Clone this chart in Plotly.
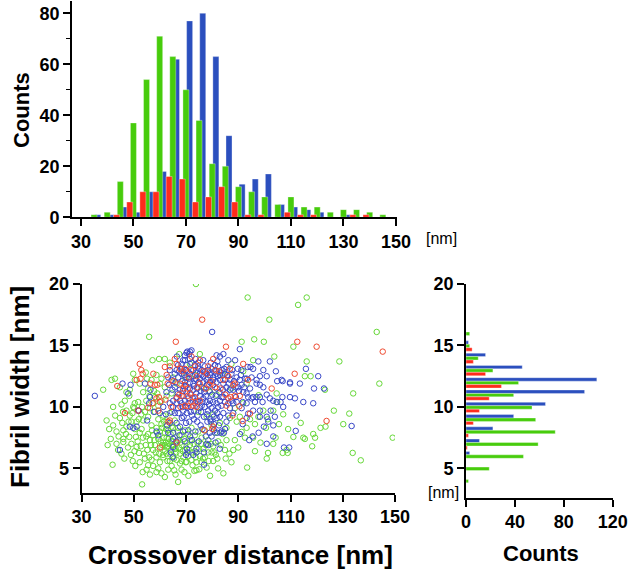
import plotly.graph_objects as go

# ---------------- data ----------------
# Crossover-distance histogram (bin centres, nm) and counts per series
cross_bins = [35, 40, 45, 50, 55, 60, 65, 70, 75, 80, 85, 90, 95, 100, 105, 110, 115, 120, 125, 130, 135, 140, 145]
cross_green = [1, 2, 14, 37, 54, 71, 63, 50, 38, 21, 20, 12, 10, 8, 5, 8, 4, 4, 2, 3, 3, 2, 1]
cross_red = [0, 0, 1, 6, 10, 10, 16, 15, 6, 8, 12, 6, 1, 1, 0, 2, 1, 1, 0, 0, 1, 1, 0]
cross_blue = [1, 1, 4, 2, 10, 18, 62, 77, 80, 63, 32, 13, 15, 17, 5, 4, 3, 2, 0, 1, 0, 0, 0]

# Fibril-width histogram (bin centres, nm) and counts per series
width_bins = [4, 5, 6, 7, 8, 9, 10, 11, 12, 13, 14, 15, 16]
width_green = [2, 19, 47, 59, 73, 57, 54, 39, 43, 22, 10, 3, 3]
width_red = [0, 0, 0, 1, 2, 6, 11, 19, 29, 16, 6, 5, 0]
width_blue = [0, 0, 3, 11, 22, 39, 65, 97, 107, 46, 16, 2, 0]

# Scatter points (crossover distance nm, fibril width nm)
green_pts = [
    (73.8, 20.0), (93.6, 18.9), (116.2, 18.9), (112.9, 18.3), (101.9, 17.1), (143.0, 16.1), (55.9, 15.7),
    (91.3, 15.3), (96.1, 15.5), (99.8, 15.3), (111.1, 14.9), (128.7, 13.7), (116.2, 13.7), (103.8, 14.1),
    (95.7, 13.8), (144.0, 11.9), (134.0, 11.1), (132.5, 9.46), (126.6, 9.7), (123.4, 8.4), (121.5, 8.3),
    (119.4, 7.5), (118.3, 6.8), (133.8, 6.26), (136.9, 5.66), (149.1, 7.5), (123.2, 11.4), (117.7, 12.5),
    (115.5, 12.5), (113.9, 8.7), (114.9, 7.5), (111.1, 7.56), (107.0, 6.26), (108.9, 6.26), (101.4, 6.26),
    (103.4, 7.0), (95.7, 7.5), (92.6, 7.5), (93.4, 5.07), (103.4, 9.7), (104.9, 10.4), (104.7, 11.1),
    (97.8, 10.95), (99.6, 9.7), (93.2, 8.3), (91.3, 7.97), (89.4, 8.8), (88.7, 7.3), (88.1, 6.5), (85.5, 7.3),
    (84.9, 6.5), (85.2, 5.8), (81.4, 6.1), (79.8, 6.3), (77.9, 5.07), (75.1, 4.93), (74.0, 4.85), (72.5, 5.26),
    (70.2, 5.53), (67.7, 5.4), (65.5, 4.85), (61.9, 4.3), (58.7, 4.7), (55.5, 5.26), (53.4, 4.7), (53.2, 3.7),
    (41.9, 5.3), (40.0, 6.9), (45.3, 6.2), (44.0, 6.5), (46.0, 7.4), (46.0, 8.1), (46.0, 7.15), (42.1, 8.5),
    (47.2, 9.7), (48.3, 7.56), (49.1, 7.0), (50.8, 7.56), (51.1, 6.75), (52.0, 6.26), (52.3, 5.5), (54.3, 5.8),
    (56.8, 5.7), (57.4, 6.5), (54.6, 6.9), (56.2, 7.3), (55.5, 7.8), (53.0, 8.2), (53.6, 8.9), (51.1, 8.8),
    (50.4, 10.3), (49.8, 10.0), (51.7, 10.4), (44.7, 11.6), (38.3, 11.4), (41.5, 12.2), (42.8, 12.3),
    (40.6, 8.2), (48.5, 11.4), (48.3, 10.9), (50.4, 12.2), (54.6, 12.8), (55.1, 12.3), (55.5, 11.5),
    (58.1, 10.8), (60.0, 11.9), (57.2, 13.8), (59.7, 13.9), (61.9, 13.9), (65.1, 12.4), (67.4, 14.3),
    (75.3, 14.3), (130.2, 8.6), (118.7, 7.8), (115.5, 7.4), (108.5, 6.5),
    (58.1, 9.6), (59.4, 9.0), (60.6, 8.6), (61.3, 9.3), (62.6, 8.9), (63.8, 9.5), (64.5, 8.4), (65.7, 8.9),
    (67.0, 8.3), (68.3, 7.7), (69.6, 8.1), (70.9, 7.8), (72.1, 8.3), (73.4, 7.7), (74.7, 8.0), (76.0, 7.5),
    (77.2, 8.1), (78.5, 7.3), (79.8, 8.5), (81.1, 7.9), (82.3, 7.2), (80.4, 6.8), (78.5, 6.3), (76.6, 6.6),
    (75.3, 6.0), (73.4, 6.4), (71.5, 6.9), (69.6, 6.5), (68.3, 6.9), (67.0, 7.3), (65.7, 6.6), (64.5, 7.2),
    (63.2, 6.8), (62.6, 7.5), (61.3, 7.1), (60.6, 6.7), (59.4, 7.4), (58.1, 6.9), (57.4, 7.7), (58.7, 8.3),
    (60.0, 8.0), (61.9, 7.9), (63.2, 8.1), (56.8, 8.5), (55.5, 9.2), (54.3, 9.6), (52.9, 9.4), (52.3, 7.9),
    (50.4, 8.2), (49.1, 8.8), (48.5, 9.3), (47.2, 8.4), (44.7, 9.1), (43.4, 8.0), (43.4, 7.0), (42.1, 10.0),
    (46.6, 10.5), (45.3, 10.2), (58.7, 5.9), (60.0, 5.5), (61.3, 5.9), (62.6, 6.2), (63.8, 5.6), (65.1, 6.0),
    (66.4, 5.7), (67.7, 6.2), (69.0, 5.9), (70.9, 6.0), (72.1, 5.7), (74.0, 5.5), (76.0, 5.5), (77.2, 5.9),
    (80.4, 5.6), (59.4, 5.0), (56.2, 4.5), (57.4, 5.2), (63.2, 4.9), (64.5, 5.2), (62.6, 6.7), (64.2, 6.5),
    (61.9, 6.4), (60.9, 6.9), (65.1, 6.9), (66.1, 6.6), (62.3, 7.1), (63.5, 7.0), (64.8, 7.2), (61.6, 7.5),
    (47.2, 11.2), (49.8, 12.7), (52.3, 11.9), (53.6, 11.2), (56.8, 12.2), (58.7, 12.6), (60.6, 12.3),
    (61.9, 11.6), (62.6, 10.9), (60.6, 10.5), (59.4, 10.1), (57.4, 10.3), (56.2, 9.9), (64.5, 11.1),
    (66.4, 11.9), (63.8, 13.6), (69.6, 12.4), (71.5, 13.5), (73.4, 12.6), (76.0, 11.6), (79.2, 11.2),
    (81.7, 11.0), (84.3, 12.6), (87.4, 11.5), (87.4, 13.5), (91.9, 12.9), (93.2, 11.9), (74.7, 9.6),
    (77.9, 9.2), (80.4, 9.4), (83.0, 8.7), (85.5, 8.3), (86.8, 9.1), (88.7, 9.9), (90.6, 9.2), (91.9, 10.3),
    (94.5, 9.0), (96.4, 8.6), (97.7, 9.2), (100.6, 8.3), (101.3, 9.0), (105.6, 8.6), (107.2, 9.4),
    (109.1, 8.2), (104.3, 7.5), (98.5, 7.1), (96.4, 6.4), (100.9, 5.8), (90.0, 6.7), (87.4, 5.5), (82.3, 5.0),
    (84.3, 4.6), (79.2, 4.4), (70.9, 4.4), (68.3, 4.9), (67.0, 3.9),
    (48.9, 6.1), (49.6, 5.6), (50.3, 6.4), (51.5, 7.2), (52.7, 6.8), (53.5, 7.5), (53.9, 6.2), (54.8, 7.6),
    (55.2, 6.5), (55.9, 5.9), (56.6, 6.9), (57.0, 8.1), (57.9, 7.3), (58.4, 6.3), (58.9, 7.9), (59.7, 6.2),
    (60.3, 7.2), (60.8, 8.3), (61.2, 6.1), (61.6, 8.8), (62.0, 6.9), (62.4, 8.2), (62.9, 5.6), (63.3, 7.4),
    (63.7, 6.2), (64.1, 7.8), (64.6, 6.8), (65.0, 8.3), (65.4, 5.8), (65.9, 7.5), (66.3, 6.3), (66.8, 8.0),
    (67.3, 6.7), (67.8, 7.1), (68.3, 5.6), (68.8, 6.4), (69.3, 7.4), (69.9, 5.5), (70.4, 7.1), (71.0, 6.5),
    (71.7, 7.3), (72.3, 6.3), (72.9, 7.0), (73.7, 5.9), (74.4, 7.1), (75.0, 6.6), (75.8, 7.0), (76.5, 5.8),
    (77.6, 6.9), (78.7, 5.6), (79.5, 7.0), (80.9, 6.3), (82.0, 5.8), (83.3, 6.9), (84.0, 7.8), (86.6, 6.2),
    (48.0, 8.8), (47.0, 7.8), (45.6, 8.7), (44.2, 7.6), (49.5, 9.5), (51.9, 9.0), (50.2, 9.9), (53.2, 10.0),
    (54.8, 10.5), (56.0, 10.9), (57.8, 11.3), (59.0, 11.1), (45.9, 9.6), (42.9, 9.3), (39.6, 8.9), (41.2, 7.4),
    (47.8, 6.7), (46.4, 5.8), (50.6, 5.2), (54.9, 4.9), (60.6, 4.6), (66.0, 4.5), (69.4, 4.7), (73.2, 4.8),
]

blue_pts = [
    (35.1, 10.9), (45.7, 11.9), (47.9, 11.1), (48.8, 11.8), (48.5, 8.4), (49.8, 8.3), (51.1, 8.4), (51.9, 9.7),
    (54.3, 11.9), (55.9, 10.3), (55.1, 8.9), (56.2, 10.8), (56.4, 11.4), (57.7, 9.6), (58.7, 8.0), (59.4, 7.7),
    (60.0, 9.5), (61.3, 10.0), (62.3, 9.4), (62.8, 8.5), (63.2, 7.9), (63.8, 8.7), (65.1, 7.9), (65.1, 7.4),
    (65.1, 6.75), (64.2, 6.3), (66.4, 8.7), (67.7, 8.4), (67.1, 9.5), (68.4, 9.1), (69.0, 9.7), (68.7, 10.0),
    (70.3, 9.5), (70.0, 8.7), (71.3, 8.8), (70.9, 8.1), (71.6, 7.6), (72.3, 7.3), (70.3, 6.6), (70.6, 6.3),
    (70.0, 6.1), (72.8, 6.1), (74.0, 6.6), (76.9, 6.3), (76.9, 5.3), (77.9, 7.0), (78.5, 6.9), (79.1, 7.9),
    (79.8, 7.6), (80.7, 8.1), (81.9, 7.9), (83.2, 7.9), (84.5, 7.9), (82.6, 8.5), (80.7, 8.6), (79.5, 8.8),
    (78.2, 8.8), (75.6, 8.5), (74.3, 8.8), (73.0, 9.0), (72.3, 9.3),
    (63.8, 10.3), (65.1, 10.5), (66.4, 10.8), (67.7, 11.4), (65.7, 11.6), (64.5, 12.2), (63.2, 12.4),
    (63.8, 13.0), (65.7, 12.7), (67.0, 12.4), (68.3, 12.7), (70.2, 12.4), (69.6, 12.0), (71.5, 12.0),
    (72.8, 11.9), (74.0, 12.2), (75.3, 12.3), (76.6, 12.0), (77.9, 12.2), (79.2, 12.0), (80.4, 12.2),
    (81.7, 12.0), (83.0, 12.2), (84.3, 11.9), (85.5, 11.6), (86.8, 11.4), (85.5, 11.1), (84.3, 10.8),
    (83.0, 10.5), (81.7, 10.3), (80.4, 10.4), (79.2, 10.5), (77.9, 10.4), (76.6, 10.7), (75.3, 10.9),
    (74.0, 11.1), (72.8, 11.4), (71.5, 11.5), (70.2, 11.2), (68.9, 10.9), (67.7, 10.5), (66.4, 10.3),
    (65.1, 10.0), (64.5, 9.6), (65.7, 9.5), (67.0, 9.9), (68.3, 10.3), (69.6, 10.5), (70.9, 10.3), (72.1, 10.0),
    (73.4, 10.3), (74.7, 10.4), (76.0, 10.1), (77.2, 10.0), (78.5, 9.7), (79.8, 9.9), (81.1, 9.7), (82.3, 10.0),
    (83.6, 10.1), (84.9, 10.4), (86.2, 10.3), (87.4, 10.5), (88.1, 10.3), (89.4, 10.4), (88.1, 11.4),
    (90.0, 11.6), (91.3, 11.8), (91.9, 11.2), (93.2, 11.1), (93.8, 10.8), (95.1, 10.7), (96.4, 10.4),
    (91.7, 10.4), (93.2, 10.3), (91.3, 9.9), (88.1, 9.5), (86.2, 9.3), (84.3, 9.5), (83.0, 9.2), (81.7, 9.1),
    (85.5, 8.8), (84.9, 8.2), (83.6, 8.0),
    (67.0, 13.4), (68.3, 13.5), (69.6, 13.8), (70.2, 13.4), (72.1, 13.6), (73.4, 13.4), (74.7, 13.3),
    (76.0, 13.0), (77.2, 13.3), (78.5, 13.0), (79.8, 13.1), (81.1, 13.4), (82.3, 13.3), (83.6, 13.0),
    (84.9, 12.7), (83.0, 12.6), (81.7, 12.7), (80.4, 12.4), (79.2, 12.6), (77.9, 12.7), (76.6, 12.5),
    (75.3, 12.7), (74.0, 12.8), (72.8, 13.0), (71.5, 12.7), (70.0, 13.0), (68.3, 13.1), (66.4, 13.0),
    (97.0, 10.8), (95.7, 9.7), (98.3, 9.2), (99.8, 8.4), (101.5, 8.8), (102.4, 9.7), (99.6, 13.0),
    (103.4, 7.6), (97.8, 7.9), (95.5, 7.6), (93.2, 9.1), (91.7, 8.6), (93.2, 12.3), (95.1, 12.4), (97.0, 12.2),
    (98.3, 11.8), (100.9, 11.0), (102.1, 10.7), (103.4, 10.5), (106.6, 12.2), (109.8, 11.9), (111.7, 10.7),
    (113.6, 11.9), (114.9, 10.4), (104.7, 10.4), (107.2, 10.0),
    (80.0, 16.1), (90.6, 14.7), (70.5, 14.5), (71.2, 14.3), (72.1, 14.6), (81.7, 14.2),
    (102.1, 13.7), (97.7, 13.7), (133.4, 8.45), (120.6, 12.5), (122.8, 11.5), (119.0, 11.5), (118.7, 10.3),
    (115.9, 13.1), (112.3, 9.3), (112.0, 8.05), (109.5, 6.7), (107.5, 6.7), (100.9, 7.0), (94.2, 7.3),
    (98.3, 9.7), (100.9, 9.2), (103.4, 8.5), (104.0, 9.2), (106.2, 10.4), (109.8, 10.8), (106.9, 10.8),
    (109.8, 12.0), (107.0, 12.1), (104.9, 12.1), (104.4, 12.9), (99.6, 11.6), (100.9, 12.5), (98.3, 12.5),
    (97.0, 11.9), (95.7, 13.1), (98.3, 10.8), (95.7, 10.8), (94.5, 11.5), (99.3, 10.4), (93.8, 9.46),
    (90.6, 7.8), (44.7, 6.5), (51.7, 9.7), (68.9, 13.8), (69.6, 14.2), (70.2, 14.4), (71.5, 14.5), (71.5, 13.9),
    (74.7, 13.6), (76.6, 13.8), (82.0, 13.7), (83.0, 14.1), (84.3, 14.3), (86.2, 13.8), (85.5, 13.25),
    (87.4, 12.7), (89.4, 12.4), (90.6, 12.2), (92.6, 12.3), (93.6, 13.25), (94.7, 13.25), (89.1, 10.8),
    (86.8, 9.9), (74.0, 6.3), (64.9, 5.9),
    (62.5, 11.2), (63.5, 11.8), (64.8, 11.4), (66.0, 12.0), (66.9, 11.1), (67.4, 12.9), (68.6, 12.1),
    (68.8, 11.3), (69.3, 12.6), (70.0, 11.7), (70.5, 12.9), (71.0, 10.7), (71.2, 12.3), (71.9, 11.0),
    (72.4, 12.5), (72.6, 10.7), (73.0, 11.7), (73.6, 12.3), (73.9, 10.5), (74.3, 11.5), (74.9, 12.0),
    (75.0, 13.1), (75.6, 11.3), (75.9, 12.6), (76.3, 10.4), (76.8, 11.5), (77.3, 12.9), (77.6, 10.9),
    (78.0, 11.8), (78.4, 12.4), (78.8, 10.2), (79.0, 11.3), (79.6, 12.8), (80.0, 11.0), (80.3, 11.8),
    (80.9, 12.9), (81.4, 10.9), (81.8, 11.5), (82.2, 12.5), (82.8, 11.2), (83.3, 12.8), (83.7, 10.8),
    (84.1, 11.4), (84.6, 13.1), (85.0, 12.2), (85.8, 12.6), (86.4, 11.9), (87.0, 12.2), (87.7, 13.0),
    (88.4, 12.1), (89.0, 11.6), (89.8, 13.1), (90.3, 11.3), (91.0, 12.6), (92.3, 11.6), (69.1, 9.2),
    (70.1, 10.0), (71.8, 9.6), (73.1, 9.7), (74.4, 9.3), (75.8, 9.6), (76.9, 9.2), (78.1, 9.4), (79.3, 9.0),
    (80.6, 9.2), (82.0, 9.5), (76.3, 8.2), (77.6, 7.6), (74.9, 7.2), (73.6, 8.0), (68.9, 8.0), (67.5, 7.7),
    (66.3, 7.2), (69.5, 7.2), (81.3, 7.1), (82.9, 6.6), (75.2, 9.9), (77.0, 11.2), (79.5, 13.6), (73.7, 13.9),
    (66.5, 14.1), (88.8, 13.8), (91.2, 13.0),
]

red_pts = [
    (76.2, 17.1), (66.1, 15.3), (112.6, 15.3), (120.0, 14.9), (145.3, 14.5), (91.9, 13.5), (123.8, 8.86),
    (102.8, 11.5), (94.5, 9.46), (91.7, 8.86), (46.6, 9.5), (43.7, 11.7), (51.1, 12.2), (52.3, 13.5),
    (52.9, 13.0), (52.6, 12.3), (56.4, 11.9), (57.2, 10.3), (58.7, 10.7), (59.6, 10.8), (59.0, 11.8),
    (58.1, 11.8), (57.5, 12.7), (61.9, 13.25), (62.6, 12.6), (65.7, 13.9), (66.4, 13.5), (67.7, 13.1),
    (68.7, 12.9), (69.6, 13.1), (72.1, 14.1), (71.9, 13.0), (75.3, 13.8), (78.5, 13.3), (80.4, 13.9),
    (81.3, 13.0), (85.3, 14.9), (86.8, 13.1), (86.2, 12.5), (88.7, 11.9), (88.1, 11.8), (93.8, 12.2),
    (88.7, 10.9), (87.1, 10.8), (90.6, 10.9), (90.4, 10.05), (87.8, 9.3), (85.5, 10.1), (86.2, 10.7),
    (80.4, 8.4), (77.0, 8.1), (74.0, 10.0), (72.8, 10.1), (73.4, 10.8), (71.5, 11.1), (70.6, 10.9),
    (72.1, 10.4), (66.4, 10.7), (67.4, 11.0), (68.3, 10.9), (67.9, 10.0), (63.8, 8.9), (63.2, 8.8),
    (66.4, 7.1), (60.0, 6.7), (60.0, 10.4), (59.4, 9.7), (55.5, 9.95), (51.7, 9.7), (53.4, 12.7),
    (67.7, 11.9), (70.6, 11.5), (68.9, 11.5), (69.6, 11.8), (74.4, 11.6), (75.3, 11.9), (77.6, 11.5),
    (78.9, 11.8), (81.1, 11.6), (83.2, 11.5), (84.3, 12.2), (74.1, 12.5), (77.9, 12.7), (69.6, 10.1),
    (70.9, 10.05), (75.3, 10.5), (80.1, 8.2), (63.8, 13.3), (111.6, 12.7),
    (63.0, 11.9), (65.2, 12.1), (71.0, 12.4), (73.5, 13.3), (76.5, 12.9), (79.7, 12.1), (82.6, 12.9),
    (85.0, 11.0), (62.1, 10.6), (64.4, 10.0),
]

# ---------------- style ----------------
GREEN = "#47cc0c"
RED = "#ff2b1c"
BLUE = "#2b4fbe"
SC_GREEN = "#66d838"
SC_RED = "#ef4a30"
SC_BLUE = "#3a48c8"
W, H = 630, 575


def fx(p):
    return p / W


def fy(p):
    return 1 - p / H


TICKFONT = dict(family="Liberation Sans, Arial", size=18, color="black", weight="bold")
TITLEFONT = dict(family="Liberation Sans, Arial", size=22, color="black", weight="bold")
BIGTITLEFONT = dict(family="Liberation Sans, Arial", size=26, color="black", weight="bold")
UNITFONT = dict(family="Liberation Sans, Arial", size=16, color="black")

fig = go.Figure()

# top histogram (drawn blue, green, red so red sits in front)
bar_line = dict(color="rgba(255,255,255,0.55)", width=0.6)
for vals, col, off in [(cross_blue, BLUE, 0.26), (cross_green, GREEN, -1.145), (cross_red, RED, -2.55)]:
    fig.add_trace(go.Bar(x=cross_bins, y=vals, width=2.29, offset=off, marker=dict(color=col, line=bar_line),
                         xaxis="x", yaxis="y", showlegend=False))

# scatter
for pts, col in [(green_pts, SC_GREEN), (blue_pts, SC_BLUE), (red_pts, SC_RED)]:
    fig.add_trace(go.Scatter(x=[p[0] for p in pts], y=[p[1] for p in pts], mode="markers",
                             marker=dict(symbol="circle-open", size=5.5, color=col, line=dict(width=1.0, color=col)),
                             xaxis="x2", yaxis="y2", showlegend=False))

# right histogram (horizontal)
for vals, col, off in [(width_blue, BLUE, 0.09), (width_green, GREEN, -0.19), (width_red, RED, -0.47)]:
    fig.add_trace(go.Bar(y=width_bins, x=vals, orientation="h", width=0.28, offset=off,
                         marker=dict(color=col, line=bar_line), xaxis="x3", yaxis="y3", showlegend=False))

axis_common = dict(showline=True, linecolor="black", linewidth=1.6, ticks="outside", ticklen=7, tickwidth=1.6,
                   tickcolor="black", showgrid=False, zeroline=False, tickfont=TICKFONT, fixedrange=True,
                   automargin=False)

fig.update_layout(
    width=W, height=H, margin=dict(l=0, r=0, t=0, b=0, pad=0, autoexpand=False),
    paper_bgcolor="white", plot_bgcolor="white",
    barmode="overlay",
    xaxis=dict(domain=[fx(72), fx(397)], range=[26.6, 150.4], tickvals=[30, 50, 70, 90, 110, 130, 150],
               anchor="y", **axis_common),
    yaxis=dict(domain=[fy(217.3), fy(0.5)], range=[0, 85], tickvals=[0, 20, 40, 60, 80], anchor="x",
               minor=dict(ticks="outside", tickvals=[10, 30, 50, 70], ticklen=4, tickwidth=1.4, tickcolor="black"),
               **axis_common),
    xaxis2=dict(domain=[fx(81.5), fx(395)], range=[30, 150], tickvals=[30, 50, 70, 90, 110, 130, 150],
                anchor="y2", **axis_common),
    yaxis2=dict(domain=[fy(493), fy(284)], range=[3, 20], tickvals=[5, 10, 15, 20], anchor="x2", **axis_common),
    xaxis3=dict(domain=[fx(466), fx(612.7)], range=[0, 120], tickvals=[0, 40, 80, 120], anchor="y3",
                **axis_common),
    yaxis3=dict(domain=[fy(497.7), fy(284)], range=[2.6, 20], tickvals=[5, 10, 15, 20], anchor="x3",
                **axis_common),
)

annots = [
    dict(text="Counts", x=fx(21), y=fy(110), textangle=-90, font=TITLEFONT),
    dict(text="Fibril width [nm]", x=fx(20), y=fy(387), textangle=-90, font=BIGTITLEFONT),
    dict(text="Crossover distance [nm]", x=fx(240), y=fy(555), font=BIGTITLEFONT),
    dict(text="Counts", x=fx(541), y=fy(553), font=TITLEFONT),
    dict(text="[nm]", x=fx(441), y=fy(239), font=UNITFONT),
    dict(text="[nm]", x=fx(443), y=fy(492), font=UNITFONT),
]
for a in annots:
    fig.add_annotation(xref="paper", yref="paper", showarrow=False, xanchor="center", yanchor="middle", **a)

fig.write_html("out.html", config={"displayModeBar": False},
               post_script="document.body.style.margin='0';")
